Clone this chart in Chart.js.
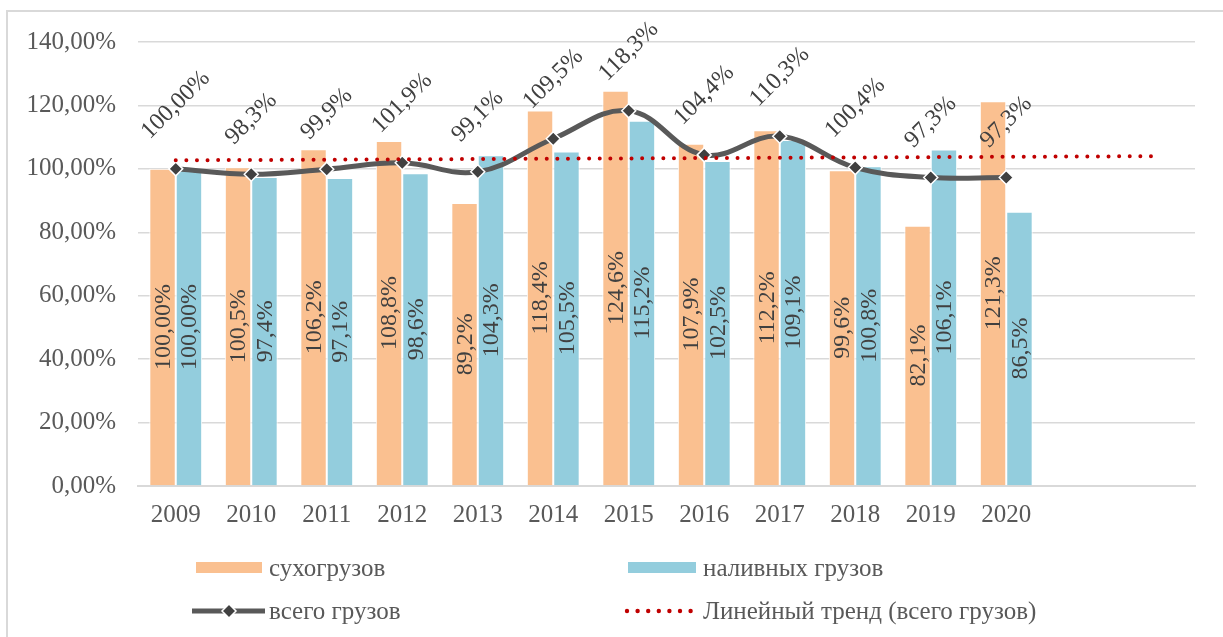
<!DOCTYPE html>
<html>
<head>
<meta charset="utf-8">
<script src="https://cdn.jsdelivr.net/npm/chart.js@4.4.0/dist/chart.umd.min.js"></script>
<style>
  body { margin: 0; background: #fff; }
  #wrap { width: 1223px; height: 637px; position: relative; }
</style>
</head>
<body>
<div id="wrap"><canvas id="chart"></canvas></div>
<script>
const years = ['2009', '2010', '2011', '2012', '2013', '2014', '2015', '2016', '2017', '2018', '2019', '2020', '', ''];
const dryCargo = [100, 100.5, 106.2, 108.8, 89.2, 118.4, 124.6, 107.9, 112.2, 99.6, 82.1, 121.3];
const liquidCargo = [100, 97.4, 97.1, 98.6, 104.3, 105.5, 115.2, 102.5, 109.1, 100.8, 106.1, 86.5];
const totalCargo = [100, 98.3, 99.9, 101.9, 99.1, 109.5, 118.3, 104.4, 110.3, 100.4, 97.3, 97.3];
const trendEnds = [102.7, 104.0];
const seriesNames = ['сухогрузов', 'наливных грузов', 'всего грузов', 'Линейный тренд (всего грузов)'];
const yTicks = [0, 20, 40, 60, 80, 100, 120, 140];

const FONT = '"Liberation Serif", "Times New Roman", serif';
const ORANGE = '#FAC090';
const BLUE = '#93CDDD';
const LINE = '#595959';
const TREND = '#C00000';

const trendData = years.map((_, i) => i === 0 ? trendEnds[0] : (i === years.length - 1 ? trendEnds[1] : null));

const pct = (v, i) => v.toFixed(i === 0 ? 2 : 1).replace('.', ',') + '%';

const frame = {
  id: 'frame',
  beforeDraw(chart) {
    const ctx = chart.ctx;
    ctx.save();
    ctx.fillStyle = '#fff';
    ctx.fillRect(0, 0, chart.width, chart.height);
    ctx.strokeStyle = '#D9D9D9';
    ctx.lineWidth = 2;
    ctx.strokeRect(7, 11, chart.width + 20, chart.height + 20);
    ctx.restore();
  }
};

const valueLabels = {
  id: 'valueLabels',
  afterDatasetsDraw(chart) {
    const ctx = chart.ctx;
    ctx.save();
    ctx.font = '24px ' + FONT;
    ctx.fillStyle = '#404040';
    ctx.textAlign = 'center';
    ctx.textBaseline = 'middle';
    [0, 1].forEach((di) => {
      const ds = chart.data.datasets[di];
      chart.getDatasetMeta(di).data.forEach((el, j) => {
        const p = el.getProps(['x', 'y', 'base'], true);
        ctx.save();
        ctx.translate(p.x, (p.y + p.base) / 2);
        ctx.rotate(-Math.PI / 2);
        ctx.fillText(pct(ds.data[j], j), 0, 1);
        ctx.restore();
      });
    });
    const ds = chart.data.datasets[2];
    chart.getDatasetMeta(2).data.forEach((el, j) => {
      const p = el.getProps(['x', 'y'], true);
      const txt = pct(ds.data[j], j);
      const w = ctx.measureText(txt).width;
      ctx.save();
      ctx.translate(p.x, p.y - 25 - (w + 24) / (2 * Math.SQRT2));
      ctx.rotate(-Math.PI / 4);
      ctx.fillText(txt, 0, 0);
      ctx.restore();
    });
    ctx.restore();
  }
};

// legend in two columns like the original
const legendGrid = {
  id: 'legendGrid',
  afterDraw(chart) {
    const ctx = chart.ctx;
    ctx.save();
    ctx.font = '25px ' + FONT;
    ctx.textBaseline = 'middle';
    ctx.textAlign = 'left';
    const row1 = 568, row2 = 611;

    ctx.fillStyle = ORANGE;
    ctx.fillRect(196, row1 - 6, 66, 11);
    ctx.fillStyle = BLUE;
    ctx.fillRect(628, row1 - 6, 68, 11);

    ctx.strokeStyle = LINE;
    ctx.lineWidth = 5;
    ctx.beginPath();
    ctx.moveTo(192, row2);
    ctx.lineTo(265, row2);
    ctx.stroke();
    ctx.fillStyle = '#404040';
    ctx.strokeStyle = '#fff';
    ctx.lineWidth = 1.5;
    ctx.beginPath();
    ctx.moveTo(229, row2 - 7);
    ctx.lineTo(236, row2);
    ctx.lineTo(229, row2 + 7);
    ctx.lineTo(222, row2);
    ctx.closePath();
    ctx.fill();
    ctx.stroke();

    ctx.fillStyle = TREND;
    for (let x = 627; x <= 694; x += 10.6) {
      ctx.beginPath();
      ctx.arc(x, row2, 2.2, 0, Math.PI * 2);
      ctx.fill();
    }

    ctx.fillStyle = '#595959';
    ctx.fillText(seriesNames[0], 269, row1 + 1);
    ctx.fillText(seriesNames[1], 703, row1 + 1);
    ctx.fillText(seriesNames[2], 269, row2 + 1);
    ctx.fillText(seriesNames[3], 703, row2 + 1);
    ctx.restore();
  }
};

new Chart(document.getElementById('chart'), {
  type: 'bar',
  data: {
    labels: years,
    datasets: [
      {
        label: seriesNames[0],
        data: dryCargo,
        backgroundColor: ORANGE,
        borderColor: '#fff',
        borderWidth: 1,
        categoryPercentage: 0.7,
        barPercentage: 1.0,
        order: 2
      },
      {
        label: seriesNames[1],
        data: liquidCargo,
        backgroundColor: BLUE,
        borderColor: '#fff',
        borderWidth: 1,
        categoryPercentage: 0.7,
        barPercentage: 1.0,
        order: 3
      },
      {
        type: 'line',
        label: seriesNames[2],
        data: totalCargo,
        borderColor: LINE,
        borderWidth: 5,
        tension: 0.4,
        pointStyle: 'rectRot',
        pointRadius: 7,
        pointBackgroundColor: '#404040',
        pointBorderColor: '#fff',
        pointBorderWidth: 1.5,
        order: 1
      },
      {
        type: 'line',
        label: seriesNames[3],
        data: trendData,
        spanGaps: true,
        borderColor: TREND,
        borderWidth: 4,
        borderDash: [0, 10.6],
        borderCapStyle: 'round',
        pointRadius: 0,
        order: 0
      }
    ]
  },
  options: {
    responsive: true,
    maintainAspectRatio: false,
    animation: false,
    layout: { padding: { left: 0, right: 28, top: 42, bottom: 100 } },
    plugins: {
      legend: { display: false },
      tooltip: { enabled: false }
    },
    scales: {
      x: {
        grid: { display: false, drawTicks: false },
        border: { color: '#D9D9D9', width: 2 },
        ticks: { color: '#595959', font: { family: FONT, size: 25 }, padding: 14, maxRotation: 0, autoSkip: false },
        afterFit(scale) { scale.height = 51; }
      },
      y: {
        min: 0,
        max: 140,
        afterBuildTicks(scale) { scale.ticks = yTicks.map((v) => ({ value: v })); },
        grid: { color: '#D9D9D9', lineWidth: 1.5, drawTicks: false },
        border: { display: false },
        ticks: {
          color: '#595959',
          font: { family: FONT, size: 25 },
          padding: 22,
          callback: (v) => v.toFixed(2).replace('.', ',') + '%'
        },
        afterFit(scale) { scale.width = 138; }
      }
    }
  },
  plugins: [frame, valueLabels, legendGrid]
});
</script>
</body>
</html>
